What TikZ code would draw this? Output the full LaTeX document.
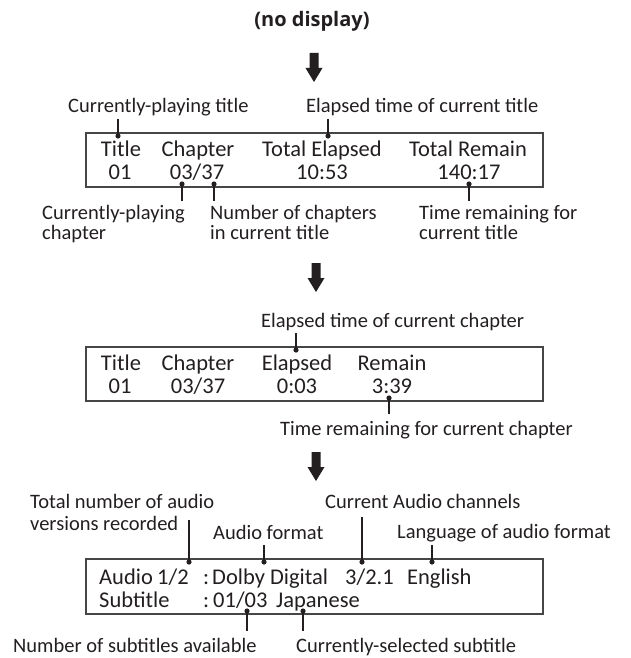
\documentclass[tikz,border=0pt]{standalone}
\usepackage{fontspec}
\setmainfont{Carlito}
\newfontfamily\osans{Open Sans}
\definecolor{ink}{RGB}{35,31,32}
\definecolor{frame}{RGB}{70,70,70}
\tikzset{
  lbl/.style={font=\fontsize{20.5}{24}\selectfont, inner sep=0pt, text=ink, anchor=base west},
  boxtxt/.style={font=\fontsize{22.5}{26}\selectfont, inner sep=0pt, text=ink, anchor=base},
  boxtxtw/.style={boxtxt, anchor=base west},
  panel/.style={draw=frame, line width=1.2pt},
  leader/.style={draw=ink, line width=2pt},
  leaderdot/.style={fill=ink},
  darrow/.pic={\fill[ink] (-4.5,0) -- (4.5,0) -- (4.5,15) -- (8.5,15) -- (0,29) -- (-8.5,15) -- (-4.5,15) -- cycle;}
}
\newcommand{\leaderto}[2]{\draw[leader] (#1) -- (#2); \fill[leaderdot] (#2) circle (2.6pt);}
\begin{document}
\begin{tikzpicture}[x=1pt,y=-1pt]
\useasboundingbox (0,0) rectangle (631,658);

% heading
\node[font={\osans\bfseries\fontsize{20}{24}\selectfont}, text=ink, inner sep=0pt] (nodisp) at (312,21) {(no display)};
\pic at (314,53) {darrow};

% ---------- panel 1 ----------
\draw[panel] (86,133) rectangle (543,187);
\node[boxtxt] (t1a) at (121,157) {Title};
\node[boxtxt] (t1b) at (198,157) {Chapter};
\node[boxtxt] (t1c) at (322,157) {Total Elapsed};
\node[boxtxt] (t1d) at (468,157) {Total Remain};
\node[boxtxt] (v1a) at (120,179) {01};
\node[boxtxt] (v1b) at (197,179) {03/37};
\node[boxtxt] (v1c) at (322,179) {10:53};
\node[boxtxt] (v1d) at (469,179) {140:17};

\node[lbl] (l1a) at (68,113) {Currently-playing title};
\node[lbl] (l1b) at (306,113) {Elapsed time of current title};
\node[lbl] (l1c) at (42,219) {Currently-playing};
\node[lbl] (l1c2) at (42,239) {chapter};
\node[lbl] (l1d) at (210,219) {Number of chapters};
\node[lbl] (l1d2) at (210,239) {in current title};
\node[lbl] (l1e) at (419,219) {Time remaining for};
\node[lbl] (l1e2) at (419,239) {current title};

\coordinate (a1) at (118,119); \coordinate (d1) at (118,136);
\coordinate (a2) at (328,119); \coordinate (d2) at (328,136);
\coordinate (a3) at (182,201); \coordinate (d3) at (182,184);
\coordinate (a4) at (214,201); \coordinate (d4) at (214,184);
\coordinate (a5) at (469,201); \coordinate (d5) at (469,184);
\leaderto{a1}{d1}
\leaderto{a2}{d2}
\leaderto{a3}{d3}
\leaderto{a4}{d4}
\leaderto{a5}{d5}

\pic at (316,263) {darrow};

% ---------- panel 2 ----------
\draw[panel] (86,347) rectangle (543,401);
\node[boxtxt] (t2a) at (121,370) {Title};
\node[boxtxt] (t2b) at (198,370) {Chapter};
\node[boxtxt] (t2c) at (297,370) {Elapsed};
\node[boxtxt] (t2d) at (392,370) {Remain};
\node[boxtxt] (v2a) at (120,393) {01};
\node[boxtxt] (v2b) at (198,393) {03/37};
\node[boxtxt] (v2c) at (297,393) {0:03};
\node[boxtxt] (v2d) at (392,393) {3:39};

\node[lbl] (l2a) at (261,327) {Elapsed time of current chapter};
\node[lbl] (l2b) at (280,435) {Time remaining for current chapter};

\coordinate (b1) at (296,333); \coordinate (e1) at (296,350);
\coordinate (b2) at (389,414); \coordinate (e2) at (389,398);
\leaderto{b1}{e1}
\leaderto{b2}{e2}

\pic at (316,452) {darrow};

% ---------- panel 3 ----------
\draw[panel] (86,559) rectangle (543,614);
\node[boxtxtw] (s1) at (99,584) {Audio};
\node[boxtxtw] (s2) at (157,584) {1/2};
\node[boxtxtw] (s3) at (203,584) {:};
\node[boxtxtw] (s4) at (212,584) {Dolby Digital};
\node[boxtxtw] (s5) at (345,584) {3/2.1};
\node[boxtxtw] (s6) at (407,584) {English};
\node[boxtxtw] (u1) at (99,607) {Subtitle};
\node[boxtxtw] (u2) at (203,607) {:};
\node[boxtxtw] (u3) at (213,607) {01/03};
\node[boxtxtw] (u4) at (276,607) {Japanese};

\node[lbl] (l3a) at (30,508) {Total number of audio};
\node[lbl] (l3a2) at (30,530) {versions recorded};
\node[lbl] (l3b) at (213,539) {Audio format};
\node[lbl] (l3c) at (325,508) {Current Audio channels};
\node[lbl] (l3d) at (397,538) {Language of audio format};
\node[lbl] (l3e) at (13,652) {Number of subtitles available};
\node[lbl] (l3f) at (296,652) {Currently-selected subtitle};

\coordinate (c1) at (189,520); \coordinate (f1) at (189,562);
\coordinate (c2) at (264,545); \coordinate (f2) at (264,562);
\coordinate (c3) at (362,517); \coordinate (f3) at (362,562);
\coordinate (c4) at (432,545); \coordinate (f4) at (432,562);
\coordinate (c5) at (247,631); \coordinate (f5) at (247,611);
\coordinate (c6) at (303,631); \coordinate (f6) at (303,611);
\leaderto{c1}{f1}
\leaderto{c2}{f2}
\leaderto{c3}{f3}
\leaderto{c4}{f4}
\leaderto{c5}{f5}
\leaderto{c6}{f6}
\end{tikzpicture}
\end{document}
